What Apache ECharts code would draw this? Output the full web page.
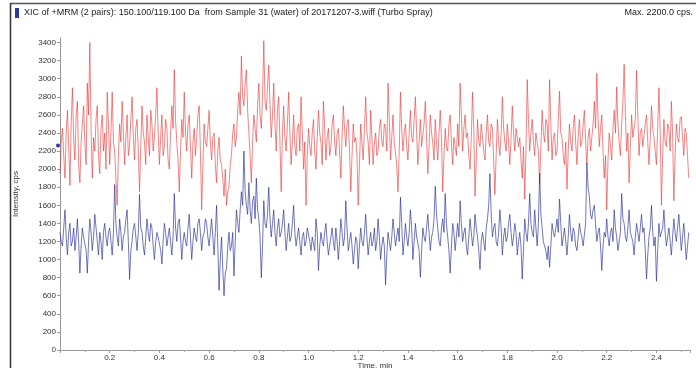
<!DOCTYPE html>
<html>
<head>
<meta charset="utf-8">
<script src="https://cdn.jsdelivr.net/npm/echarts@6/dist/echarts.min.js"></script>
<style>
  html, body { margin: 0; padding: 0; background: #fff; }
  #chart { width: 696px; height: 368px; }
</style>
</head>
<body>
<div id="chart"></div>
<script>
// XIC trace, one value every 0.005 min
const step = 0.005;

const redTrace = [
  1950,2300,2450,2150,1900,2400,2650,2250,1820,2500,2900,2350,2100,2600,2750,2050,1850,2300,2500,2700,
  2300,2050,2950,2600,3400,2450,1900,2350,2200,2550,2700,2150,1950,2450,2600,2200,2400,2000,2850,2500,
  2050,2400,2850,2300,2200,1900,1600,2150,2500,2300,2750,2400,2050,2350,2600,2150,2250,2550,2800,2350,
  2100,2450,2550,2200,1750,2250,2700,2400,2300,2050,2600,2350,2150,2650,2500,2200,2350,2600,2900,2400,
  2050,2350,2600,2150,2250,2550,2450,2100,2000,2400,2700,2450,3100,2550,2300,2100,1750,2200,2550,2350,
  2850,2400,2200,2500,2600,2250,1900,2300,2450,2150,2350,2600,2700,2200,1550,2050,2500,2300,2250,2450,
  2650,2300,2100,2350,2400,2050,1850,2200,2350,2100,2050,1900,1700,2000,1600,1750,1800,2050,2150,2400,
  2500,2250,2350,2650,2850,2600,3250,2800,2700,2950,3100,2650,2400,2150,1850,2300,2600,2450,2300,2700,
  2950,2600,2450,2800,3420,2750,2650,2900,3150,2700,2350,2600,2950,2500,2200,2650,2800,2300,1750,2400,
  2700,2350,2200,2500,2850,2400,2050,2300,2600,2250,2150,2450,2500,2200,2800,2400,2000,2300,1600,2150,
  2450,2250,2150,2400,2550,2200,2000,2350,2650,2400,2300,2050,2750,2450,2100,2350,2450,2150,2250,2500,
  2600,2300,2150,2400,2450,2200,1900,2350,2700,2450,2250,2500,2550,2200,1750,2150,2500,2300,2350,2150,
  1600,2050,2500,2300,2100,2450,2800,2400,2300,2050,2650,2350,2050,2300,2400,2150,2200,2450,2550,2300,
  2250,2500,2450,2200,2950,2550,2100,2350,2600,2300,2300,2050,1750,2200,2850,2450,2200,2400,2500,2250,
  2100,2400,2650,2350,2300,2550,2800,2400,2050,2300,2550,2250,2250,2500,2750,2350,1950,2250,2600,2400,
  2300,2100,2550,2300,2100,2400,2650,2350,1750,2150,2450,2250,2200,2500,2600,2300,2050,2350,2350,2150,
  2500,2250,2950,2600,2200,2450,2600,2350,2400,2150,2000,2350,2850,2450,1700,2100,2550,2300,2250,2500,
  2350,2200,2100,2400,2600,2300,2250,2500,2450,2100,1720,2150,2550,2300,2150,2400,2800,2450,2300,2200,
  2500,2300,2050,2350,2700,2400,2200,2450,2450,2250,2350,2100,1900,2250,1670,2200,2990,2550,2200,2400,
  2550,2300,2150,2400,2400,2200,1830,2250,2650,2400,2300,2550,2500,2200,2990,2500,2100,2350,2400,2150,
  2200,2550,2860,2400,2350,2150,2050,2300,1780,2200,2500,2300,2200,2450,2600,2300,2050,2350,2550,2250,
  2300,2500,2650,2300,2050,2350,2450,2200,2200,2500,2750,2450,3060,2550,2250,2450,2600,2200,1900,2150,
  1550,2100,2400,2250,2100,2450,2650,2400,2910,2500,2300,2150,2500,2750,3160,2600,2200,2400,1850,2250,
  2600,2350,2350,2550,3090,2600,2150,2400,2450,2250,2250,2500,2600,2300,2050,2350,2700,2450,2350,2200,
  2050,2450,2900,2450,1600,2150,2550,2300,2250,2500,2450,2200,2750,2400,1650,2150,2500,2350,2300,2550,
  2580,2350,2150,2450,2400,2150,1900
];

const blueTrace = [
  1300,1200,1150,1350,1550,1250,1050,1300,1400,1150,1200,1350,1100,1250,1450,1200,850,1150,1350,1250,
  1250,1100,850,1200,1450,1300,1100,1250,1500,1350,1200,1050,1300,1200,1000,1300,1400,1250,1150,1300,
  1350,1200,1050,1300,1830,1400,1250,1150,1450,1300,1100,1250,1300,1450,1550,1200,780,1100,1200,1350,
  1400,1250,1100,1300,1720,1350,1300,1150,1050,1250,1450,1300,1200,1400,1350,1150,1000,1200,1300,1250,
  1250,1100,950,1200,1400,1300,1150,1250,1350,1200,1050,1250,1730,1350,1200,1400,1450,1250,1000,1200,
  1300,1200,1150,1350,1500,1250,1000,1200,1350,1250,1200,1400,1450,1300,1100,1250,1300,1450,1400,1250,
  1150,1300,1450,1250,1050,1300,1600,1150,660,1000,1250,900,600,850,900,1150,1300,1100,1150,1300,
  820,1200,1550,1400,1300,1550,1750,1600,2200,1750,1600,1500,1850,1550,1400,1650,1700,1450,1900,1550,
  1450,1250,800,1150,1650,1400,1350,1500,1800,1450,1250,1400,1550,1300,1150,1350,1450,1250,1300,1400,
  1550,1300,1100,1250,1400,1200,1250,1400,1600,1300,1150,1250,1350,1200,1050,1250,1300,1150,1200,1350,
  1350,1200,1100,1250,1250,1100,1450,1300,880,1150,1300,1200,1150,1300,1400,1200,1050,1150,1250,1350,
  1200,1100,1350,1200,1000,1200,1450,1300,1150,1250,1650,1350,1100,1200,1300,1150,950,1100,1250,1200,
  900,1150,1350,1200,1150,1300,1500,1250,1050,1200,1300,1150,1200,1350,1100,1200,1450,1250,1000,1150,
  1250,1150,720,1050,1300,1200,1100,1250,1450,1300,1150,1250,1350,1200,1690,1400,1050,1200,1400,1250,
  1150,1300,1550,1350,1000,1200,1400,1250,1250,1100,805,1100,1350,1250,1200,1350,1500,1300,1100,1250,
  1300,1450,1810,1500,1350,1200,1150,1350,1450,1300,1730,1400,1250,1100,850,1150,1400,1300,1100,1250,
  1400,1250,1650,1400,1200,1300,1350,1150,1050,1250,1450,1300,1150,1250,1500,1350,1250,1100,890,1200,
  1300,1200,1100,1350,1450,1600,1950,1500,1250,1350,1400,1200,1150,1300,1550,1350,1050,1250,1350,1200,
  1250,1400,1500,1300,1150,1250,1400,1300,1050,1200,1300,1150,785,1100,1450,1300,1200,1400,1730,1400,
  1300,1250,1550,1350,1150,1400,1955,1500,1350,1200,1200,1100,1000,1150,915,1150,1400,1300,1250,1350,
  1450,1300,1670,1400,1150,1250,1350,1200,1050,1250,1500,1300,1200,1350,1300,1150,1100,1250,1400,1300,
  1250,1150,1150,1400,2065,1800,1700,1500,1450,1550,1600,1400,1200,1300,1350,1150,880,1150,1300,1250,
  1450,1250,1150,1300,1350,1200,1550,1350,1250,1100,1100,1300,1730,1450,1400,1250,1200,1350,1550,1300,
  1300,1200,1050,1250,1400,1300,1200,1350,1500,1300,1350,1100,785,1050,1250,1350,1600,1300,1150,1250,
  760,1100,1400,1250,1250,1350,1550,1300,1150,1250,1350,1200,1050,1250,1450,1300,1200,1350,1500,1300,
  1100,1250,1400,1200,1000,1150,1300
];

const titleText = 'XIC of +MRM (2 pairs): 150.100/119.100 Da  from Sample 31 (water) of 20171207-3.wiff (Turbo Spray)';
const maxText = 'Max. 2200.0 cps.';

function toPairs(values) {
  return values.map((v, i) => [+(i * step).toFixed(3), v]);
}

const font = '"Liberation Sans", Arial, sans-serif';
const chart = echarts.init(document.getElementById('chart'), null, { renderer: 'canvas' });

chart.setOption({
  animation: false,
  backgroundColor: '#fff',
  grid: { left: 60, right: 6, top: 38, bottom: 18, containLabel: false, outerBoundsMode: 'none' },
  graphic: [
    { type: 'line', shape: { x1: 10, y1: 3.5, x2: 696, y2: 3.5 }, style: { stroke: '#555', lineWidth: 1.5 } },
    { type: 'line', shape: { x1: 10.5, y1: 3, x2: 10.5, y2: 368 }, style: { stroke: '#333', lineWidth: 1.5 } },
    { type: 'rect', shape: { x: 15, y: 8, width: 4, height: 10 }, style: { fill: '#2b3a9a' } },
    { type: 'text', left: 24, top: 8, style: { text: titleText, font: '9px ' + font, fill: '#222' } },
    { type: 'text', right: 3, top: 8, style: { text: maxText, font: '9px ' + font, fill: '#222' } }
  ],
  xAxis: {
    type: 'value',
    min: 0,
    max: 2.535,
    interval: 0.2,
    name: 'Time, min',
    nameLocation: 'middle',
    nameGap: 12,
    nameMoveOverlap: false,
    nameTextStyle: { fontFamily: font, fontSize: 8, color: '#333' },
    axisLine: { lineStyle: { color: '#999' } },
    axisTick: { length: 3, lineStyle: { color: '#999' } },
    minorTick: { show: true, splitNumber: 2, length: 2, lineStyle: { color: '#aaa' } },
    splitLine: { show: false },
    axisLabel: {
      fontFamily: font, fontSize: 8, color: '#333', margin: 4,
      showMinLabel: false, showMaxLabel: false,
      formatter: v => v.toFixed(1)
    }
  },
  yAxis: {
    type: 'value',
    min: 0,
    max: 3450,
    interval: 200,
    name: 'Intensity, cps',
    nameLocation: 'middle',
    nameGap: 40,
    nameMoveOverlap: false,
    nameTextStyle: { fontFamily: font, fontSize: 8, color: '#333' },
    axisLine: { show: true, lineStyle: { color: '#999' } },
    axisTick: { show: true, length: 3, lineStyle: { color: '#999' } },
    splitLine: { show: false },
    axisLabel: {
      fontFamily: font, fontSize: 8, color: '#333', margin: 4,
      showMaxLabel: false,
      formatter: v => String(v)
    }
  },
  series: [
    {
      type: 'line',
      data: toPairs(redTrace),
      showSymbol: false,
      lineStyle: { color: 'rgba(235,50,50,0.6)', width: 1 },
      silent: true
    },
    {
      type: 'line',
      data: toPairs(blueTrace),
      showSymbol: false,
      lineStyle: { color: 'rgba(40,45,150,0.65)', width: 1 },
      silent: true,
      markPoint: {
        symbol: 'circle',
        symbolSize: 4,
        symbolOffset: [-2, 0],
        itemStyle: { color: '#2b3a9a' },
        label: { show: false },
        data: [{ coord: [0, 2260] }]
      }
    }
  ]
});
</script>
</body>
</html>
